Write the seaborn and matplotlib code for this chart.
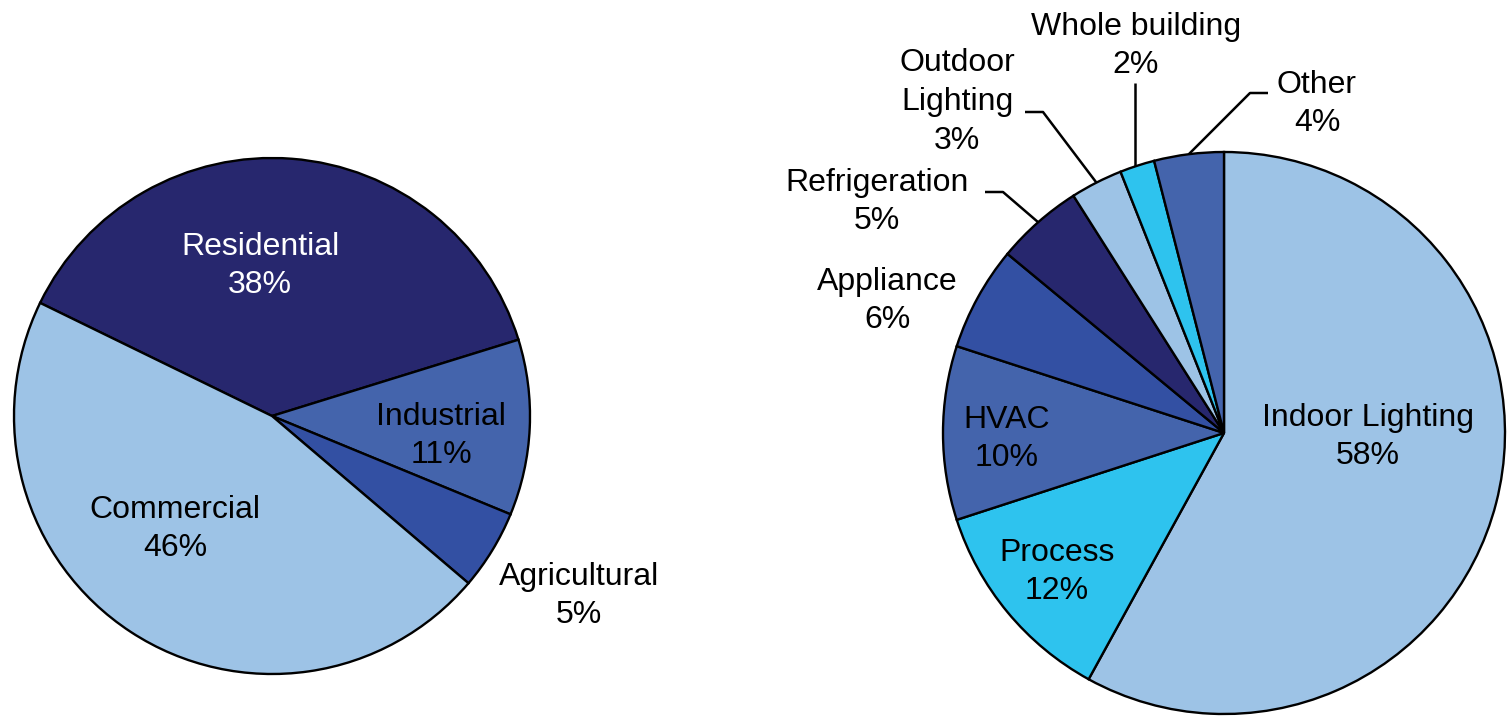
import numpy as np
import matplotlib
matplotlib.use("Agg")
import matplotlib.pyplot as plt
import seaborn as sns

# ---------------- data ----------------
sector_names = ["Residential", "Industrial", "Agricultural", "Commercial"]
sector_values = [38, 11, 5, 46]

enduse_names = ["Indoor Lighting", "Process", "HVAC", "Appliance", "Refrigeration",
                "Outdoor\nLighting", "Whole building", "Other"]
enduse_values = [58, 12, 10, 6, 5, 3, 2, 4]

# ---------------- style ----------------
sns.set_theme(style="white")
plt.rcParams["font.family"] = ["Liberation Sans", "DejaVu Sans"]

NAVY = "#27276E"
MED = "#4464AC"
BLUE = "#3350A3"
LIGHT = "#9DC3E6"
CYAN = "#2EC3EE"

sector_colors = [NAVY, MED, BLUE, LIGHT]
enduse_colors = [LIGHT, CYAN, MED, BLUE, NAVY, LIGHT, CYAN, MED]

W, H = 1508, 716
fig = plt.figure(figsize=(W / 100, H / 100), dpi=100)
ax = fig.add_axes([0, 0, 1, 1])

def py(y):  # pixel-from-top -> data y
    return H - y

wp = dict(edgecolor="black", linewidth=1.7)

c1 = (272, py(416)); r1 = 258
w1, _ = ax.pie(sector_values, colors=sector_colors, startangle=154, counterclock=False,
               center=c1, radius=r1, wedgeprops=wp, frame=True)

c2 = (1224, py(433)); r2 = 281
w2, _ = ax.pie(enduse_values, colors=enduse_colors, startangle=90, counterclock=False,
               center=c2, radius=r2, wedgeprops=wp, frame=True)

ax.set_xlim(0, W)
ax.set_ylim(0, H)
ax.set_aspect("equal")
ax.axis("off")

FS = 23
LS = 1.38

def lab(x, y, name, val, color="black"):
    ax.text(x, py(y), f"{name}\n{val}%", ha="center", va="center", fontsize=FS,
            color=color, linespacing=LS)

# left pie labels
left_pos = [(260, 266, "white"), (441, 436, "black"), (579, 596, "black"), (175, 529, "black")]
for (x, y, col), n, v in zip(left_pos, sector_names, sector_values):
    lab(x, y, n, v, col)

# right pie labels
right_pos = [(1368, 437), (1057, 572), (1007, 439), (887, 301), (877, 202),
             (957, 102), (1136, 46), (1317, 104)]
for (x, y), n, v in zip(right_pos, enduse_names, enduse_values):
    lab(x, y, n, v)

# leader lines: from label elbow to wedge edge at mid angle
def edge_pt(w, c, r):
    a = np.deg2rad((w.theta1 + w.theta2) / 2)
    return c[0] + r * np.cos(a), c[1] + r * np.sin(a)

leaders = {
    4: [(985, 192), (1003, 192)],    # Refrigeration
    5: [(1025, 112), (1043, 112)],   # Outdoor Lighting
    6: [(1135, 83)],                 # Whole building
    7: [(1268, 93), (1250, 93)],     # Other
}
for i, pts in leaders.items():
    ex, ey = edge_pt(w2[i], c2, r2)
    xs = [p[0] for p in pts]
    ys = [py(p[1]) for p in pts]
    if i == 6:
        ex = xs[0]
    xs.append(ex); ys.append(ey)
    ax.plot(xs, ys, color="black", linewidth=1.8, solid_capstyle="butt")

fig.savefig("out.png", dpi=100)
